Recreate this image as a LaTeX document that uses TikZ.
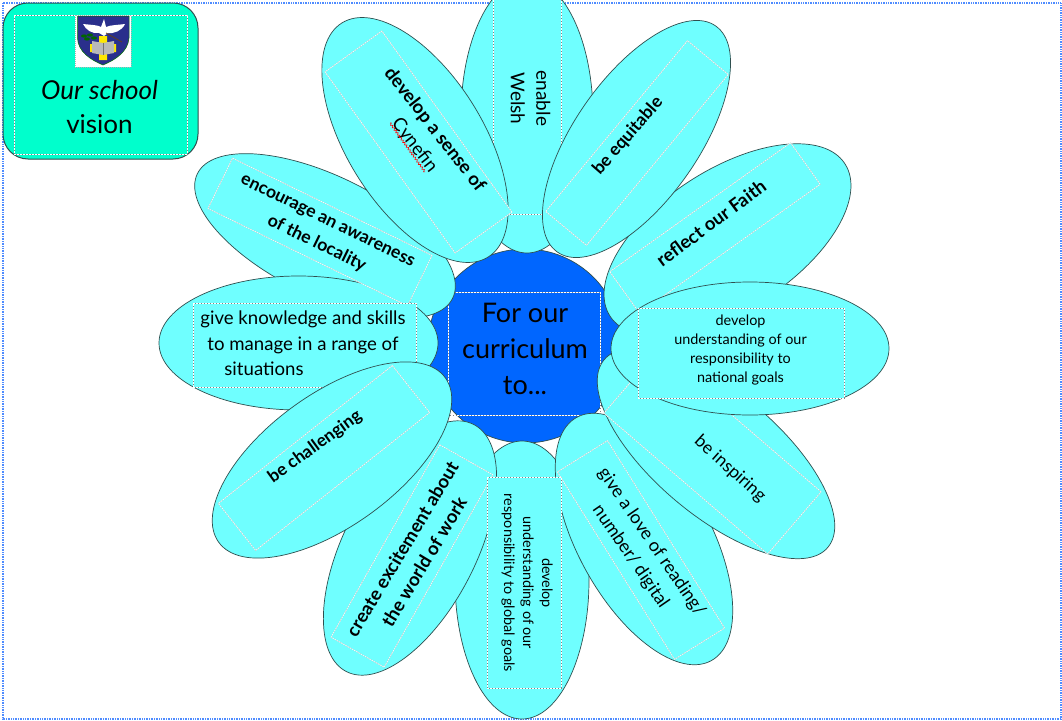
\documentclass[tikz,border=0pt]{standalone}
\usepackage{fontspec}
\setmainfont{Lato}
\usetikzlibrary{shapes.geometric,decorations.pathmorphing}
\definecolor{petalcyan}{HTML}{6FFFFF}
\definecolor{mint}{HTML}{00FFCC}
\definecolor{coreblue}{HTML}{0066FF}
\definecolor{edgegrey}{HTML}{2F4F4F}
\definecolor{framedot}{HTML}{4F8CFF}
\definecolor{shieldblue}{HTML}{2A2F8C}
\tikzset{
  petal/.style={ellipse,draw=edgegrey,line width=0.7pt,fill=petalcyan,inner sep=0pt},
  tiltbox/.style={rectangle,draw=gray!45,line width=0.6pt,fill=petalcyan,inner sep=0pt,
    postaction={draw=white,dash pattern=on 1.5pt off 1pt}},
  flatbox/.style={rectangle,draw=gray,line width=0.8pt,fill=petalcyan,inner sep=0pt,
    postaction={draw=white,dash pattern=on 2pt off 1pt}},
  plainbox/.style={rectangle,draw=gray,line width=0.8pt,inner sep=0pt,
    postaction={draw=white,dash pattern=on 2pt off 1pt}},
  label/.style={align=center,inner sep=0pt,text=black},
  big/.style={label,font=\fontsize{27}{36}\selectfont},
  mid/.style={label,font=\fontsize{18.4}{25.5}\selectfont},
  midb/.style={label,font=\fontsize{18.5}{25.5}\selectfont\bfseries},
  midc/.style={label,font=\fontsize{17.6}{25.5}\selectfont\bfseries},
  small/.style={label,font=\fontsize{14.4}{19}\selectfont},
}
\newcommand{\petalat}[6]{% name, x, y, 2a, 2b, rot
  \node[petal,minimum width=#4pt,minimum height=#5pt,rotate=#6] (#1) at (#2,#3) {};}
\newcommand{\boxat}[6]{% name, x, y, w, h, rot
  \node[tiltbox,minimum width=#4pt,minimum height=#5pt,rotate=#6] (#1) at (#2,#3) {};}
\newcommand{\flatat}[5]{% name, x, y, w, h
  \node[flatbox,minimum width=#4pt,minimum height=#5pt] (#1) at (#2,#3) {};}
\begin{document}
\begin{tikzpicture}[x=1pt,y=-1pt]
\useasboundingbox (0,0) rectangle (1062,720);
\begin{scope}
\clip (0,0) rectangle (1062,720);
\fill[white] (0,0) rectangle (1062,720);
\draw[framedot,line width=1.1pt,dash pattern=on 1pt off 0.7pt] (3,3) rectangle (1061,719);

% centre
\node[circle,fill=coreblue,draw=edgegrey,line width=0.7pt,minimum size=194pt,inner sep=0pt] (core) at (525,346) {};
\node[plainbox,minimum width=152pt,minimum height=123pt] (corebox) at (524,353.5) {};
\node[big] (coretext) at (525,349) {For our\\curriculum\\to...};

% bottom petal
\petalat{pbottom}{522}{580}{278}{134}{90}
% create
\petalat{pcreate}{410}{548}{278}{132}{62.7}
\boxat{bcreate}{412}{556}{221}{61}{60.5}
\node[midb,rotate=59] (tcreate) at (413,555.5) {create excitement about\\the world of work};
% love
\petalat{plove}{644}{539}{278}{132}{-61}
\boxat{blove}{641}{550}{221}{59}{-58}
\node[mid,rotate=-55.5,font=\fontsize{18}{25.5}\selectfont] (tlove) at (641,549.5) {give a love of reading/\\number/ digital};
% bottom box
\flatat{bbottom}{524}{582.5}{74}{211}
\node[small,rotate=-90] (tbottom) at (527,583) {develop\\understanding of our\\responsibility to global goals};
% inspiring
\petalat{pinspire}{716}{453.5}{292}{124}{-40}
\boxat{binspire}{712.5}{452.5}{216}{82}{-40.7}
\node[mid,rotate=-42,font=\fontsize{17.6}{25.5}\selectfont] (tinspire) at (730,469) {be inspiring};
% reflect
\petalat{preflect}{727.5}{240}{280}{140}{33}
\boxat{breflect}{715}{228}{222}{51}{35.5}
\node[midb,rotate=36.5] (treflect) at (711,223) {reflect our Faith};
% national
\petalat{pnational}{750}{348.5}{278}{133}{0}
\flatat{bnational}{741}{353}{206}{90}
\node[small] (tnational) at (740.5,350.5) {develop\\understanding of our\\responsibility to\\national goals};
% Welsh
\petalat{pwelsh}{527}{116}{274}{132}{90}
\flatat{bwelsh}{527}{106}{68}{216}
\node[mid,rotate=-90,font=\fontsize{19}{25.5}\selectfont] (twelsh) at (530.5,98.5) {enable\\Welsh};
% equitable
\petalat{pequit}{636.5}{139}{276}{124}{55}
\boxat{bequit}{637}{143}{222}{53}{50.3}
\node[midc,rotate=49] (tequit) at (628,136) {be equitable};
% locality and knowledge
\petalat{plocal}{325}{236}{284}{120}{-26}
\petalat{pknow}{298.5}{343}{279}{134}{0}
\boxat{blocal}{320}{232}{222}{56}{-26}
\node[midc,rotate=-26] (tlocal) at (321.5,233.5) {encourage an awareness\\of the locality};
\flatat{bknow}{304.5}{345}{223}{84}
\node[mid,font=\fontsize{18.6}{25.5}\selectfont] (tknow) at (303,343.5) {give knowledge and skills\\to manage in a range of\\situations\hspace*{78pt}};
% challenging
\petalat{pchall}{332}{460}{280}{132}{36}
\boxat{bchall}{324}{458}{222}{60}{38.4}
\node[midb,rotate=36,font=\fontsize{17.4}{25.5}\selectfont\bfseries] (tchall) at (315,447) {be challenging};
% Cynefin
\petalat{pcyne}{415}{140}{276}{136}{-58}
\boxat{bcyne}{418.5}{142}{223}{70}{-54.3}
\node[midb,rotate=-52] (tcyne) at (424.5,137.5) {develop a sense of\\{\mdseries Cynefin}};
\coordinate (sqa) at (390,123);
\coordinate (sqb) at (425,172);
\draw[red,line width=0.6pt,decorate,decoration={zigzag,amplitude=1pt,segment length=3pt}] (sqa) -- (sqb);

% school vision panel
\node[rectangle,rounded corners=25pt,draw=edgegrey,line width=1pt,fill=mint,minimum width=195pt,minimum height=156pt,inner sep=0pt] (panel) at (100.5,81) {};
\node[plainbox,minimum width=173pt,minimum height=139pt] (panelbox) at (100.5,84.5) {};
\node[label,font=\fontsize{26}{34}\selectfont] (paneltext) at (99.5,107) {\textit{Our school}\\vision};

% crest
\fill[white] (75,15) rectangle (131,67);
\draw[gray!60,line width=0.6pt,dash pattern=on 1pt off 1pt] (75,15) rectangle (131,67);
\draw[fill=shieldblue,draw=green!45!black,line width=0.5pt] (77.5,16) -- (129,16) -- (129,38) .. controls (128,52) and (115,60) .. (103,65) .. controls (91,60) and (78,52) .. (77.5,38) -- cycle;
\fill[white] (83,24) .. controls (92,25) and (98,25) .. (101,27) -- (104,19) -- (106,27) .. controls (110,25) and (118,25) .. (125,24) .. controls (122,31) and (113,34) .. (108,33) -- (104,36) -- (99,33) .. controls (92,34) and (86,30) .. (83,24) -- cycle;
\draw[brown!50!black,line width=0.8pt] (106,33) -- (122,42);
\fill[green!40!black] (84,36) ellipse (3pt and 1.6pt) (90,35) ellipse (3pt and 1.6pt) (87,39) ellipse (3pt and 1.6pt) (94,38) ellipse (3pt and 1.6pt);
\fill[yellow!90!orange] (99,36) rectangle (107,60) (90,44) rectangle (116,52);
\fill[gray!55] (92,41) -- (103,43) -- (114,41) -- (114,53) -- (103,55) -- (92,53) -- cycle;
\draw[gray!90!black,line width=0.4pt] (103,43) -- (103,55);
\end{scope}
\end{tikzpicture}
\end{document}
